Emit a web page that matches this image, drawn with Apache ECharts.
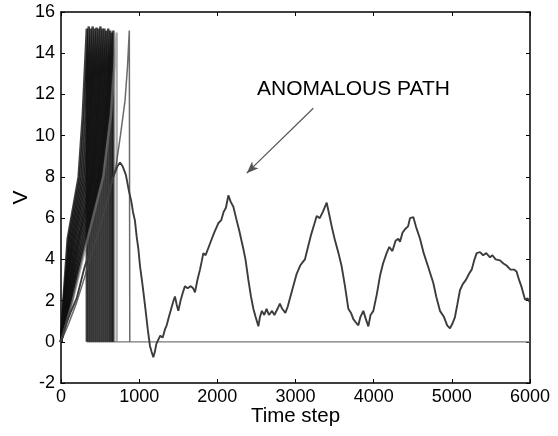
<!DOCTYPE html>
<html><head><meta charset="utf-8">
<script src="https://cdn.jsdelivr.net/npm/echarts@6/dist/echarts.min.js"></script>
<style>html,body{margin:0;padding:0;background:#fff}#c{width:558px;height:436px}</style>
</head><body><div id="c"></div>
<script>
// ---- data ----
const xTickValues = [0, 1000, 2000, 3000, 4000, 5000, 6000];
const yTickValues = [-2, 0, 2, 4, 6, 8, 10, 12, 14, 16];
const xTitle = 'Time step';
const yTitle = 'V';
const annotationText = 'ANOMALOUS PATH';

// bundle of paths that blow up: x at which each path crosses these V levels
const bundleLevels = [0, 2, 5, 8, 11, 14];
const bundleCrossX = [
  [0, 30, 85, 225, 278, 315],
  [0, 40, 100, 245, 300, 338],
  [0, 35, 115, 265, 325, 362],
  [0, 50, 130, 285, 350, 388],
  [0, 55, 145, 305, 372, 413],
  [0, 45, 160, 325, 395, 437],
  [0, 65, 175, 345, 420, 462],
  [0, 75, 190, 370, 445, 488],
  [0, 70, 210, 390, 468, 512],
  [0, 90, 225, 410, 490, 537],
  [0, 95, 240, 430, 515, 562],
  [0, 105, 260, 455, 540, 587],
  [0, 115, 280, 475, 565, 612],
  [0, 125, 300, 495, 585, 632],
  [0, 140, 320, 515, 605, 652],
  [0, 150, 340, 540, 640, 692]
];
const bundleEnds  = [330, 355, 380, 405, 430, 455, 480, 505, 530, 555, 580, 605, 630, 650, 670, 712];
const bundlePeaks = [15.2, 15.3, 15.2, 15.3, 15.2, 15.25, 15.2, 15.3, 15.2, 15.2, 15.1, 15.2, 15.1, 15.0, 15.1, 15.0];

// the path that blows up late (~880)
const latePath = [[0,0],[100,0.9],[200,1.9],[300,3.1],[400,4.4],[500,5.6],[600,6.9],[703,8.5],[760,10.0],[819,11.7],[850,13.3],[874,15.1],[880,15.1],[880,0]];

// stable level after blow-up
const zeroLine = [[330,0],[6000,0]];

// the anomalous path
const anomalousPath = [[0,0],[60,0.8],[120,1.4],[200,2.1],[260,3.0],[300,3.6],[360,4.3],[400,4.9],[460,5.5],[500,6.0],[560,6.7],[600,7.1],[650,7.8],[690,8.2],[720,8.5],[755,8.7],[790,8.5],[830,8.1],[870,7.3],[900,6.8],[921,6.3],[945,5.9],[968,5.1],[990,4.5],[1010,3.7],[1045,2.7],[1080,1.6],[1110,0.6],[1138,-0.2],[1160,-0.5],[1181,-0.75],[1200,-0.5],[1220,-0.1],[1245,0.1],[1270,0.3],[1300,0.2],[1330,0.6],[1352,0.8],[1380,1.2],[1410,1.6],[1440,2.0],[1458,2.2],[1480,1.8],[1501,1.5],[1530,2.0],[1560,2.4],[1586,2.7],[1620,2.6],[1660,2.7],[1690,2.6],[1714,2.4],[1745,3.0],[1778,3.5],[1800,3.9],[1821,4.3],[1850,4.2],[1880,4.5],[1920,4.9],[1960,5.3],[2012,5.75],[2050,5.9],[2080,6.3],[2110,6.5],[2141,7.1],[2170,6.8],[2205,6.55],[2240,6.0],[2280,5.4],[2333,4.5],[2360,4.0],[2397,3.0],[2430,2.2],[2461,1.6],[2490,1.2],[2525,0.75],[2545,1.2],[2570,1.5],[2600,1.3],[2630,1.6],[2660,1.3],[2700,1.5],[2730,1.3],[2770,1.6],[2800,1.85],[2830,1.6],[2870,1.4],[2900,1.7],[2950,2.4],[3015,3.3],[3060,3.7],[3100,3.9],[3121,4.0],[3160,4.6],[3200,5.2],[3240,5.7],[3271,6.1],[3310,6.0],[3350,6.3],[3399,6.75],[3430,6.2],[3463,5.6],[3500,5.0],[3550,4.3],[3591,3.65],[3633,2.7],[3676,1.6],[3710,1.4],[3740,1.1],[3780,0.9],[3804,0.8],[3830,1.2],[3868,1.5],[3900,1.1],[3932,0.75],[3960,1.3],[3996,1.5],[4040,2.3],[4081,3.2],[4120,3.8],[4166,4.3],[4200,4.6],[4240,4.4],[4280,4.9],[4315,5.0],[4337,4.85],[4370,5.3],[4410,5.5],[4440,5.6],[4465,6.0],[4507,6.05],[4540,5.6],[4593,5.0],[4640,4.3],[4700,3.6],[4763,2.85],[4800,2.2],[4848,1.5],[4900,1.2],[4940,0.8],[4976,0.65],[5010,0.9],[5040,1.2],[5070,1.8],[5104,2.5],[5140,2.8],[5180,3.0],[5220,3.3],[5254,3.5],[5290,4.0],[5318,4.3],[5360,4.35],[5400,4.2],[5440,4.3],[5488,4.1],[5520,4.2],[5560,4.0],[5616,3.95],[5660,3.8],[5700,3.7],[5750,3.5],[5800,3.5],[5829,3.4],[5860,3.0],[5893,2.65],[5936,2.05],[5970,2.1],[6000,1.9]];

// annotation arrow (data coordinates)
const arrowFrom = [3228, 11.33];
const arrowTo = [2376, 8.18];

// ---- chart ----
const FONT = 'Liberation Sans, Arial, Helvetica, sans-serif';
const chart = echarts.init(document.getElementById('c'), null, {renderer: 'canvas'});

const series = [];
bundleCrossX.forEach((xs, i) => {
  const d = xs.map((x, j) => [x, bundleLevels[j]]);
  d.push([bundleEnds[i], bundlePeaks[i]]);
  d.push([bundleEnds[i], 0]);
  series.push({
    type: 'line', data: d, showSymbol: false, silent: true, z: 2,
    lineStyle: {color: i === bundleCrossX.length - 1 ? 'rgba(120,120,120,0.6)' : 'rgba(15,15,15,0.8)', width: 2.4}
  });
});
series.push({type: 'line', data: latePath, showSymbol: false, silent: true, z: 2,
  lineStyle: {color: 'rgba(70,70,70,0.8)', width: 1.5}});
series.push({type: 'line', data: zeroLine, showSymbol: false, silent: true, z: 1,
  lineStyle: {color: '#777', width: 1.3}});
series.push({type: 'line', data: anomalousPath, showSymbol: false, silent: true, z: 3,
  lineStyle: {color: '#3c3c3c', width: 1.9},
  markLine: {
    silent: true, symbol: ['none', 'arrow'], symbolSize: [7, 12],
    label: {show: false},
    lineStyle: {color: '#555', width: 1.2, type: 'solid'},
    itemStyle: {color: '#222'},
    data: [[{coord: arrowFrom}, {coord: arrowTo}]]
  }});

const axisLineStyle = {show: true, onZero: false, lineStyle: {color: '#000', width: 1.5}};
const tickStyle = {show: true, inside: true, length: 4, lineStyle: {color: '#000', width: 1}};
const plain = v => String(v);

chart.setOption({
  animation: false,
  backgroundColor: '#fff',
  grid: {left: 61, right: 28, top: 12, bottom: 53, containLabel: false, outerBoundsMode: 'none'},
  xAxis: [
    {type: 'value', min: xTickValues[0], max: xTickValues[xTickValues.length - 1], interval: 1000,
     position: 'bottom', axisLine: axisLineStyle, axisTick: tickStyle, splitLine: {show: false},
     axisLabel: {color: '#000', fontSize: 18, fontFamily: FONT, margin: 5, formatter: plain},
     name: xTitle, nameLocation: 'middle', nameGap: 23, nameMoveOverlap: false,
     nameTextStyle: {color: '#000', fontSize: 20.5, fontFamily: FONT, verticalAlign: 'top'}},
    {type: 'value', min: xTickValues[0], max: xTickValues[xTickValues.length - 1], interval: 1000,
     position: 'top', axisLine: axisLineStyle, axisTick: tickStyle, splitLine: {show: false},
     axisLabel: {show: false}}
  ],
  yAxis: [
    {type: 'value', min: yTickValues[0], max: yTickValues[yTickValues.length - 1], interval: 2,
     position: 'left', axisLine: axisLineStyle, axisTick: tickStyle, splitLine: {show: false},
     axisLabel: {color: '#000', fontSize: 18, fontFamily: FONT, margin: 6, formatter: plain},
     name: yTitle, nameLocation: 'middle', nameGap: 29, nameRotate: 90, nameMoveOverlap: false,
     nameTextStyle: {color: '#000', fontSize: 21, fontFamily: FONT}},
    {type: 'value', min: yTickValues[0], max: yTickValues[yTickValues.length - 1], interval: 2,
     position: 'right', axisLine: axisLineStyle, axisTick: tickStyle, splitLine: {show: false},
     axisLabel: {show: false}}
  ],
  graphic: [{
    type: 'text', left: 257, top: 79, silent: true,
    style: {text: annotationText, fill: '#000', font: '21px ' + FONT}
  }],
  series: series
});
</script>
</body></html>
